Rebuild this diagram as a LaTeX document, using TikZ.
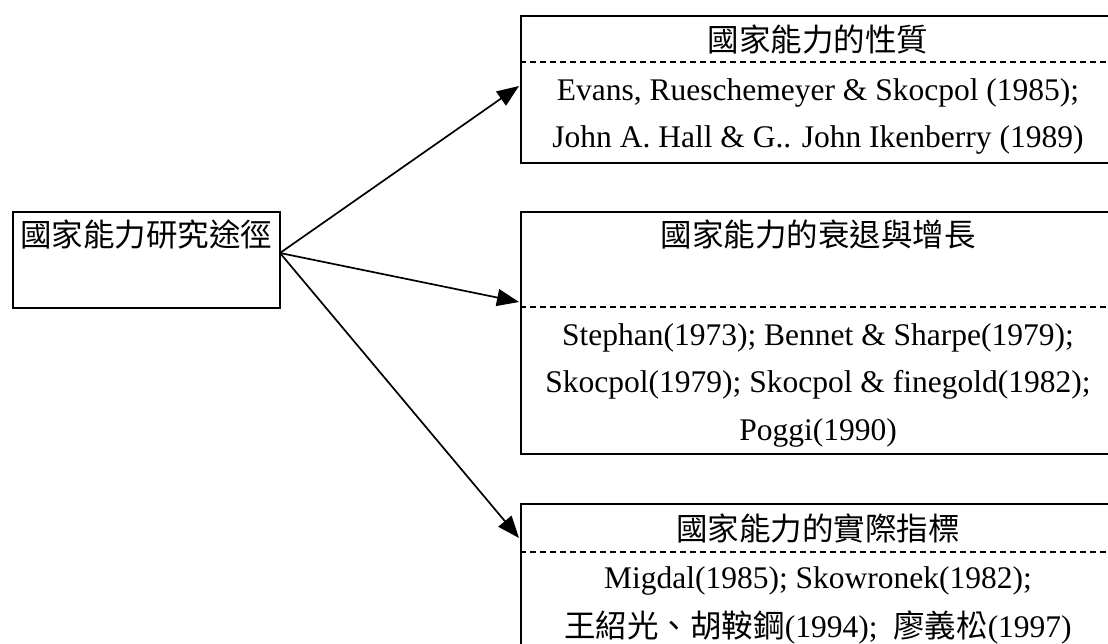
\documentclass[tikz,border=0pt]{standalone}
\usepackage{fontspec}
\setmainfont{Liberation Serif}
\newfontfamily\cjk{Noto Sans CJK TC}
\usetikzlibrary{arrows.meta}

\tikzset{
  frame/.style={draw,line width=2.3pt,anchor=north west,inner sep=0pt},
  divider/.style={line width=1.3pt,dash pattern=on 6pt off 4pt},
  link/.style={line width=1.7pt,-{Triangle[length=22pt,width=17pt]}},
  txt/.style={font=\fontsize{31.5}{47}\selectfont,inner sep=0pt,anchor=base}
}

\begin{document}
\begin{tikzpicture}[x=1pt,y=-1pt]
\useasboundingbox (0,0) rectangle (1108,644);
\clip (0,0) rectangle (1108,644);

%Radice
\begin{scope}
\node[frame,minimum width=267pt,minimum height=96pt] (root) at (12,211) {};
\node[txt,anchor=base west] (rootlab) at (20,247) {\cjk 國家能力研究途徑};
\coordinate (src) at (280,253);
\end{scope}

%Natura
\begin{scope}
\node[frame,minimum width=596pt,minimum height=147pt] (nature) at (520,15) {};
\draw[divider] (520,62) -- (1116,62);
\node[txt] (naturetitle) at (818,52) {\cjk 國家能力的性質};
\node[txt] (naturea) at (818,100.5) {Evans, Rueschemeyer \& Skocpol (1985);};
\node[txt] (natureb) at (818,147.5) {John A. Hall \& G.. John Ikenberry (1989)};
\coordinate (naturein) at (519,86);
\end{scope}

%Declino e crescita
\begin{scope}
\node[frame,minimum width=596pt,minimum height=242pt] (trend) at (520,211) {};
\draw[divider] (520,307) -- (1116,307);
\node[txt] (trendtitle) at (818,247) {\cjk 國家能力的衰退與增長};
\node[txt] (trenda) at (818,345.5) {Stephan(1973); Bennet \& Sharpe(1979);};
\node[txt] (trendb) at (818,392.5) {Skocpol(1979); Skocpol \& finegold(1982);};
\node[txt] (trendc) at (818,440.5) {Poggi(1990)};
\coordinate (trendin) at (519,302);
\end{scope}

%Indicatori
\begin{scope}
\node[frame,minimum width=596pt,minimum height=157pt] (index) at (520,503) {};
\draw[divider] (520,552) -- (1116,552);
\node[txt] (indextitle) at (818,540) {\cjk 國家能力的實際指標};
\node[txt] (indexa) at (818,588.5) {Migdal(1985); Skowronek(1982);};
\node[txt] (indexb) at (818,637.5) {{\cjk 王紹光、胡鞍鋼}(1994);\ \ {\cjk 廖義松}(1997)};
\coordinate (indexin) at (519,538);
\end{scope}

\draw[link] (src) -- (naturein);
\draw[link] (src) -- (trendin);
\draw[link] (src) -- (indexin);

\end{tikzpicture}
\end{document}
